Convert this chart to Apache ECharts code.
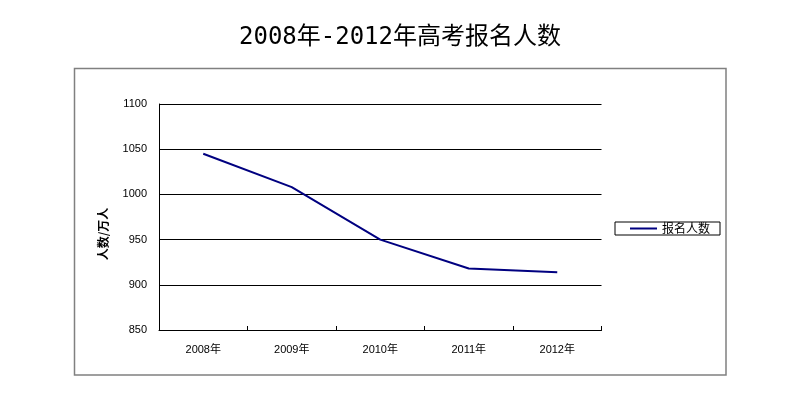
<!DOCTYPE html>
<html>
<head>
<meta charset="utf-8">
<script src="https://cdn.jsdelivr.net/npm/echarts@6/dist/echarts.min.js"></script>
<style>html,body{margin:0;padding:0;background:#fff}#c{width:800px;height:400px}</style>
</head>
<body>
<div id="c"></div>
<script>
const titleText = '2008年-2012年高考报名人数';
const categories = ['2008年', '2009年', '2010年', '2011年', '2012年'];
const seriesName = '报名人数';
const values = [1045, 1008, 950, 918, 914];
const yAxisName = '人数/万人';

const chart = echarts.init(document.getElementById('c'), null, {renderer: 'canvas'});
chart.setOption({
  backgroundColor: '#ffffff',
  animation: false,
  title: {
    text: titleText,
    left: 'center',
    top: 21,
    textStyle: {fontFamily: 'DejaVu Sans Mono, Noto Sans CJK SC', fontSize: 24, fontWeight: 'normal', color: '#000'}
  },
  graphic: [{
    type: 'rect',
    shape: {x: 74.5, y: 68.5, width: 651.5, height: 306.5},
    style: {fill: 'none', stroke: '#808080', lineWidth: 1.5},
    silent: true
  }],
  legend: {
    left: 615,
    top: 222,
    orient: 'vertical',
    padding: [0, 10, 0, 15],
    icon: 'rect',
    itemWidth: 27,
    itemHeight: 2,
    borderColor: '#000',
    borderWidth: 1,
    borderRadius: 0,
    textStyle: {fontFamily: 'Noto Sans CJK SC', fontSize: 12, color: '#000', lineHeight: 13, padding: [0, 0, 0, 0]},
    data: [seriesName]
  },
  grid: {left: 159, top: 104, right: 198.5, bottom: 70, containLabel: false},
  xAxis: {
    type: 'category',
    data: categories,
    boundaryGap: true,
    axisLine: {show: true, lineStyle: {color: '#000', width: 1}},
    axisTick: {show: true, inside: true, length: 4, lineStyle: {color: '#000'}},
    axisLabel: {margin: 14, fontFamily: 'Liberation Sans, Noto Sans CJK SC', fontSize: 11, color: '#000'},
    splitLine: {show: false}
  },
  yAxis: {
    type: 'value',
    min: 850,
    max: 1100,
    interval: 50,
    name: yAxisName,
    nameLocation: 'middle',
    nameGap: 50,
    nameRotate: 90,
    nameTextStyle: {fontFamily: 'Noto Sans CJK SC', fontSize: 12, fontWeight: 'bold', color: '#000', padding: [0, 34, 0, 0]},
    axisLine: {show: true, lineStyle: {color: '#000', width: 1}},
    axisTick: {show: false},
    axisLabel: {margin: 12, fontFamily: 'Liberation Sans', fontSize: 11, color: '#000', formatter: function (v) { return String(v); }},
    splitLine: {show: true, lineStyle: {color: '#000', width: 1}}
  },
  series: [{
    name: seriesName,
    type: 'line',
    data: values,
    symbol: 'none',
    showSymbol: false,
    lineStyle: {color: '#000080', width: 2},
    itemStyle: {color: '#000080'}
  }]
});
</script>
</body>
</html>
